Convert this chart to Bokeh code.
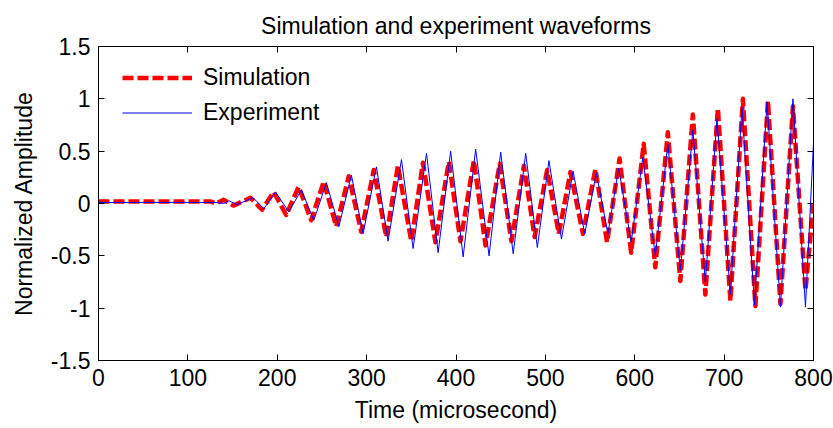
from bokeh.plotting import figure
from bokeh.models import (LinearAxis, FixedTicker, CustomJSTickFormatter, Legend,
                          LegendItem, Range1d)
from bokeh.embed import file_html
from bokeh.resources import INLINE

# ---------------- data ----------------
title_text = "Simulation and experiment waveforms"
x_label = "Time (microsecond)"
y_label = "Normalized Amplitude"
x_ticks = [0, 100, 200, 300, 400, 500, 600, 700, 800]
y_ticks = [-1.5, -1, -0.5, 0, 0.5, 1, 1.5]

# Simulation waveform (time in microseconds, normalized amplitude)
sim_time = [0, 125, 131, 140, 151, 170, 183, 196, 210, 224, 238, 252, 266, 280, 294,
            308, 322, 335, 350, 363, 377, 392, 405, 420, 433, 449, 462, 476, 488, 502,
            515, 528, 542, 556, 569, 583, 596, 610, 623, 637, 651, 665, 679, 693, 707,
            721, 735, 749, 763, 777, 791, 800]
sim_amp = [0.02, 0.02, 0.0, 0.035, -0.02, 0.055, -0.06, 0.11, -0.11, 0.16, -0.16, 0.21,
           -0.22, 0.26, -0.27, 0.32, -0.32, 0.36, -0.36, 0.39, -0.37, 0.40, -0.36, 0.41,
           -0.40, 0.38, -0.36, 0.36, -0.32, 0.32, -0.29, 0.30, -0.29, 0.33, -0.37, 0.43,
           -0.47, 0.57, -0.61, 0.68, -0.74, 0.85, -0.87, 0.91, -0.93, 1.0, -0.98, 0.98,
           -0.96, 0.93, -0.83, 0.0]

# Experiment waveform
exp_time = [0, 132, 140, 146, 155, 173, 185, 198, 213, 227, 241, 255, 269, 283, 296,
            311, 324, 339, 352, 367, 380, 394, 408, 422, 437, 450, 464, 478, 491, 504,
            518, 531, 544, 557, 570, 582, 596, 609, 623, 637, 651, 665, 679, 692, 707,
            720, 734, 748, 763, 777, 791, 800]
exp_amp = [0.01, 0.01, 0.0, 0.025, -0.01, 0.055, -0.05, 0.11, -0.08, 0.13, -0.16, 0.20,
           -0.22, 0.27, -0.29, 0.35, -0.36, 0.42, -0.43, 0.48, -0.47, 0.50, -0.51, 0.52,
           -0.50, 0.49, -0.48, 0.48, -0.42, 0.41, -0.34, 0.31, -0.29, 0.29, -0.29, 0.34,
           -0.37, 0.44, -0.50, 0.57, -0.64, 0.70, -0.75, 0.81, -0.87, 0.92, -0.97, 0.97,
           -0.99, 1.0, -0.99, 0.58]

# ---------------- figure ----------------
FONT = "Liberation Sans"
FS = "23px"

p = figure(width=833, height=428, output_backend="svg", toolbar_location=None,
           x_range=Range1d(0, 800), y_range=Range1d(-1.5, 1.5),
           min_border_left=98, min_border_right=20, min_border_top=46,
           min_border_bottom=68, title=title_text,
           x_axis_label=x_label, y_axis_label=y_label)

p.background_fill_color = "white"
p.border_fill_color = "white"
p.outline_line_color = "black"
p.outline_line_width = 1
p.grid.visible = False

p.title.text_font = FONT
p.title.text_font_size = FS
p.title.text_font_style = "normal"
p.title.text_color = "black"
p.title.align = "center"
p.title.vertical_align = "top"
p.title.standoff = 12

fmt = CustomJSTickFormatter(code="return tick.toString();")
blank = CustomJSTickFormatter(code="return '';")

def style_axis(ax, ticks, formatter, size=FS):
    ax.ticker = FixedTicker(ticks=ticks)
    ax.formatter = formatter
    ax.major_tick_in = 6
    ax.major_tick_out = 0
    ax.minor_tick_line_color = None
    ax.axis_line_color = "black"
    ax.major_tick_line_color = "black"
    ax.major_label_text_font = FONT
    ax.major_label_text_font_size = size
    ax.major_label_text_color = "black"
    ax.axis_label_text_font = FONT
    ax.axis_label_text_font_size = FS
    ax.axis_label_text_font_style = "normal"
    ax.axis_label_text_color = "black"

style_axis(p.xaxis[0], x_ticks, fmt)
style_axis(p.yaxis[0], y_ticks, fmt)
p.xaxis[0].major_label_standoff = 8
p.xaxis[0].axis_label_standoff = 8
p.yaxis[0].major_label_standoff = 8
p.yaxis[0].axis_label_standoff = 11

top_ax = LinearAxis()
style_axis(top_ax, x_ticks, blank, size="1px")
top_ax.major_label_standoff = 0
p.add_layout(top_ax, "above")

right_ax = LinearAxis()
style_axis(right_ax, y_ticks, blank, size="1px")
right_ax.major_label_standoff = 0
p.add_layout(right_ax, "right")

r_sim = p.line(sim_time, sim_amp, line_color="#FF0000", line_width=4.5,
               line_dash="11 4", line_join="round")
r_exp = p.line(exp_time, exp_amp, line_color="#0000FF", line_width=1)

legend = Legend(items=[LegendItem(label="Simulation", renderers=[r_sim]),
                       LegendItem(label="Experiment", renderers=[r_exp])],
                location=(24, 230), glyph_width=70, glyph_height=35,
                label_height=35, label_standoff=11, padding=0, margin=0,
                spacing=0, border_line_color=None, background_fill_alpha=0,
                label_text_font=FONT, label_text_font_size=FS,
                label_text_color="black")
p.add_layout(legend)

open("out.html", "w").write(file_html(p, INLINE))
